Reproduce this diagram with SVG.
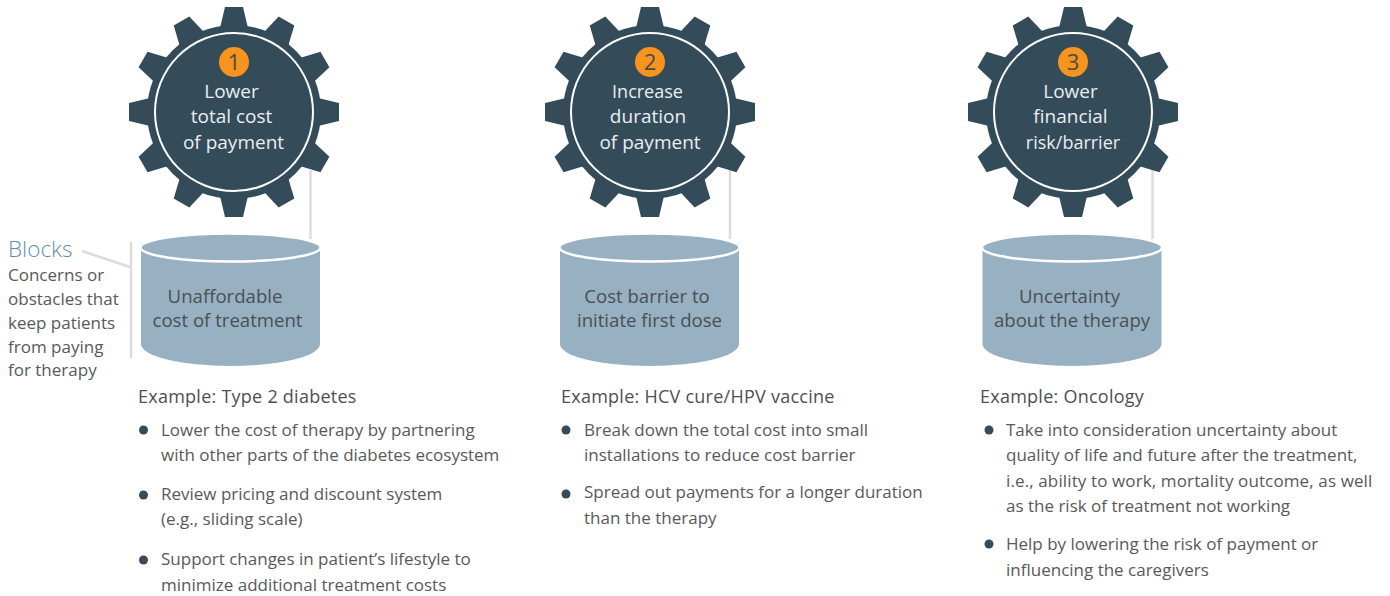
<svg xmlns="http://www.w3.org/2000/svg" width="1390" height="596" viewBox="0 0 1390 596">
<style>
text{font-family:"Open Sans","Noto Sans","Liberation Sans",sans-serif;font-size:17px;fill:#58595b}
.c{text-anchor:middle}
.g{font-size:19px;fill:#e9eef1}
.g2{font-size:18px}
.n{font-size:22px;fill:#4a4a4a}
.cy{font-size:18.600px;fill:#4a4f54}
.h{font-size:22.500px;font-weight:300;fill:#5f8fad}
.ex{font-size:18px;letter-spacing:.25px;fill:#4d4f52}
.ln{stroke:#dcdcdc;stroke-width:2.500;fill:none}
.ring{fill:#344b5a;stroke:#fff;stroke-width:2}
.body{fill:#97b1c3}
.top{fill:#97b1c3;stroke:#fff;stroke-width:2.500}
.dot{fill:#344b5a}
</style>
<defs>
<polygon id="t" points="-14,-84 -9,-105 9,-105 14,-84" fill="#344b5a"/>
<g id="gear">
<circle r="87" fill="#344b5a"/>
<use href="#t"/><use href="#t" transform="rotate(30)"/><use href="#t" transform="rotate(60)"/><use href="#t" transform="rotate(90)"/><use href="#t" transform="rotate(120)"/><use href="#t" transform="rotate(150)"/><use href="#t" transform="rotate(180)"/><use href="#t" transform="rotate(210)"/><use href="#t" transform="rotate(240)"/><use href="#t" transform="rotate(270)"/><use href="#t" transform="rotate(300)"/><use href="#t" transform="rotate(330)"/>
<circle r="79" class="ring"/>
</g>
<g id="cyl">
<path class="body" d="M-89.500,248V344A89.500,22 0 0 0 89.500,344V248Z"/>
<ellipse cy="247.500" rx="90" ry="14" class="top"/>
</g>
</defs>
<g id="connectors">
<path class="ln" d="M310.500,170V239"/>
<path class="ln" d="M730,170V239"/>
<path class="ln" d="M1152.500,170V239"/>
<path class="ln" d="M131,242V358"/>
<path class="ln" d="M82,251L130,267"/>
</g>
<g id="node-1">
<use href="#gear" x="234" y="112"/>
<circle cx="234" cy="62" r="15" fill="#f7941e"/>
<text class="c n" x="234" y="70">1</text>
<text class="c g" x="231.500" y="98">Lower</text>
<text class="c g" x="231.500" y="123">total cost</text>
<text class="c g" x="233.500" y="149">of payment</text>
</g>
<g id="node-2">
<use href="#gear" x="650" y="112"/>
<circle cx="650" cy="62" r="15" fill="#f7941e"/>
<text class="c n" x="650" y="70">2</text>
<text class="c g g2" x="647.500" y="98">Increase</text>
<text class="c g" x="648" y="123">duration</text>
<text class="c g" x="650" y="149">of payment</text>
</g>
<g id="node-3">
<use href="#gear" x="1073" y="112"/>
<circle cx="1073" cy="62" r="15" fill="#f7941e"/>
<text class="c n" x="1073" y="70">3</text>
<text class="c g" x="1070.500" y="98">Lower</text>
<text class="c g" x="1070.500" y="123">financial</text>
<text class="c g g2" x="1073" y="149">risk/barrier</text>
</g>
<g id="block-1">
<use href="#cyl" x="230.500" y="0"/>
<text class="c cy" x="225" y="303">Unaffordable</text>
<text class="c cy" x="227.500" y="327">cost of treatment</text>
</g>
<g id="block-2">
<use href="#cyl" x="649.500" y="0"/>
<text class="c cy" x="647" y="303">Cost barrier to</text>
<text class="c cy" x="649.500" y="327">initiate first dose</text>
</g>
<g id="block-3">
<use href="#cyl" x="1072" y="0"/>
<text class="c cy" x="1069.500" y="303">Uncertainty</text>
<text class="c cy" x="1072" y="327">about the therapy</text>
</g>
<g id="legend">
<text class="h" x="8" y="257">Blocks</text>
<text x="8" y="281">Concerns or</text>
<text x="8" y="305">obstacles that</text>
<text x="8" y="329">keep patients</text>
<text x="8" y="353">from paying</text>
<text x="8" y="376">for therapy</text>
</g>
<g id="list-1">
<text class="ex" x="138" y="403">Example: Type 2 diabetes</text>
<circle class="dot" cx="143.500" cy="430" r="4.500"/>
<text x="161" y="436">Lower the cost of therapy by partnering</text>
<text x="161" y="461">with other parts of the diabetes ecosystem</text>
<circle class="dot" cx="143.500" cy="495" r="4.500"/>
<text x="161" y="500">Review pricing and discount system</text>
<text x="161" y="525">(e.g., sliding scale)</text>
<circle class="dot" cx="143.500" cy="560" r="4.500"/>
<text x="161" y="565">Support changes in patient’s lifestyle to</text>
<text x="161" y="591">minimize additional treatment costs</text>
</g>
<g id="list-2">
<text class="ex" x="561" y="403">Example: HCV cure/HPV vaccine</text>
<circle class="dot" cx="566" cy="430" r="4.500"/>
<text x="584" y="436">Break down the total cost into small</text>
<text x="584" y="461">installations to reduce cost barrier</text>
<circle class="dot" cx="566" cy="494" r="4.500"/>
<text x="584" y="498">Spread out payments for a longer duration</text>
<text x="584" y="524">than the therapy</text>
</g>
<g id="list-3">
<text class="ex" x="980" y="403">Example: Oncology</text>
<circle class="dot" cx="989" cy="430" r="4.500"/>
<text x="1006" y="436">Take into consideration uncertainty about</text>
<text x="1006" y="461">quality of life and future after the treatment,</text>
<text x="1006" y="487" letter-spacing=".12">i.e., ability to work, mortality outcome, as well</text>
<text x="1006" y="512">as the risk of treatment not working</text>
<circle class="dot" cx="989" cy="544" r="4.500"/>
<text x="1006" y="550">Help by lowering the risk of payment or</text>
<text x="1006" y="576">influencing the caregivers</text>
</g>
</svg>
